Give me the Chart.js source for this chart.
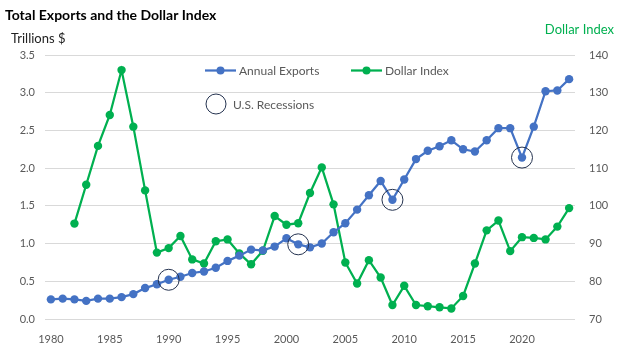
<!DOCTYPE html>
<html>
<head>
<meta charset="utf-8">
<script src="https://cdn.jsdelivr.net/npm/chart.js@4/dist/chart.umd.min.js"></script>
<style>
  html, body { margin: 0; padding: 0; background: #fff; }
  #wrap { position: relative; width: 626px; height: 345px; }
</style>
</head>
<body>
<div id="wrap"><canvas id="exportsChart"></canvas></div>
<script>
// Annual US exports (trillions $) and the trade-weighted dollar index, 1980-2024
const years = [];
for (let y = 1980; y <= 2024; y++) years.push(y);

const annualExports = [
    0.26, 0.27, 0.26, 0.24, 0.27, 0.27, 0.29, 0.33, 0.41, 0.46,
    0.52, 0.56, 0.61, 0.63, 0.68, 0.77, 0.84, 0.92, 0.91, 0.96,
    1.07, 0.99, 0.95, 1.00, 1.15, 1.27, 1.45, 1.64, 1.83, 1.58,
    1.85, 2.12, 2.23, 2.29, 2.37, 2.25, 2.22, 2.37, 2.53, 2.53,
    2.14, 2.55, 3.02, 3.03, 3.18
];

const dollarIndex = [
    null, null, 95.3, 105.6, 115.9, 124.1, 136.0, 121.0, 104.1, 87.6,
    88.8, 92.0, 85.8, 84.7, 90.6, 91.1, 87.4, 84.5, 88.1, 97.3,
    95.0, 95.4, 103.4, 110.2, 100.4, 85.0, 79.4, 85.6, 81.0, 73.7,
    78.8, 73.7, 73.4, 73.1, 72.8, 76.1, 84.7, 93.5, 96.1, 88.0,
    91.7, 91.5, 91.1, 94.5, 99.4
];

const recessionYears = [1990, 2001, 2009, 2020];

const leftTicks = [0, 0.5, 1.0, 1.5, 2.0, 2.5, 3.0, 3.5];
const rightTicks = [70, 80, 90, 100, 110, 120, 130, 140];

const BLUE = '#4472C4';
const GREEN = '#00B050';
const RING = '#24324F';
const TICK = '#595959';
const FONT = 'Lato, "Liberation Sans", sans-serif';

// recession rings sit on the export line
const recessionData = years.map((y, i) => recessionYears.includes(y) ? annualExports[i] : null);

// titles, axis captions and the two-row legend
const decorations = {
    id: 'decorations',
    afterDraw(chart) {
        const c = chart.ctx;
        c.save();
        c.textBaseline = 'middle';
        c.textAlign = 'left';

        c.fillStyle = '#000';
        c.font = 'bold 14px ' + FONT;
        c.fillText('Total Exports and the Dollar Index', 5, 15);

        c.fillStyle = '#222';
        c.font = '13px ' + FONT;
        c.fillText('Trillions $', 11, 39);

        c.fillStyle = GREEN;
        c.textAlign = 'right';
        c.fillText('Dollar Index', 614, 30);

        const item = (x, y, color, label) => {
            c.strokeStyle = color;
            c.lineWidth = 2.25;
            c.beginPath();
            c.moveTo(x, y);
            c.lineTo(x + 31, y);
            c.stroke();
            c.fillStyle = color;
            c.beginPath();
            c.arc(x + 15.5, y, 4, 0, Math.PI * 2);
            c.fill();
            c.fillStyle = TICK;
            c.textAlign = 'left';
            c.font = '12px ' + FONT;
            c.fillText(label, x + 34, y + 0.5);
        };
        item(205, 70.5, BLUE, 'Annual Exports');
        item(351, 70.5, GREEN, 'Dollar Index');

        c.strokeStyle = RING;
        c.lineWidth = 1;
        c.beginPath();
        c.arc(216, 104, 10, 0, Math.PI * 2);
        c.stroke();
        c.fillStyle = TICK;
        c.fillText('U.S. Recessions', 233, 105);

        c.restore();
    }
};

const ctx = document.getElementById('exportsChart').getContext('2d');

const exportsChart = new Chart(ctx, {
    type: 'line',
    data: {
        labels: years,
        datasets: [
            {
                label: 'U.S. Recessions',
                data: recessionData,
                yAxisID: 'y',
                showLine: false,
                pointRadius: 10.5,
                pointHoverRadius: 10.5,
                pointBorderWidth: 1,
                pointBorderColor: RING,
                pointBackgroundColor: 'rgba(0,0,0,0)',
                order: 0
            },
            {
                label: 'Annual Exports',
                data: annualExports,
                yAxisID: 'y',
                borderColor: BLUE,
                backgroundColor: BLUE,
                borderWidth: 2.25,
                pointRadius: 4.2,
                pointBorderWidth: 0,
                pointBackgroundColor: BLUE,
                tension: 0,
                order: 1
            },
            {
                label: 'Dollar Index',
                data: dollarIndex,
                yAxisID: 'yDollar',
                borderColor: GREEN,
                backgroundColor: GREEN,
                borderWidth: 2.25,
                pointRadius: 4.2,
                pointBorderWidth: 0,
                pointBackgroundColor: GREEN,
                tension: 0,
                order: 2
            }
        ]
    },
    options: {
        responsive: true,
        maintainAspectRatio: false,
        animation: false,
        layout: { padding: { top: 55, left: 0, right: 0, bottom: 0 } },
        scales: {
            x: {
                type: 'category',
                offset: true,
                grid: { display: false },
                border: { display: false },
                ticks: {
                    autoSkip: false,
                    maxRotation: 0,
                    padding: 6,
                    color: TICK,
                    font: { family: FONT, size: 11 },
                    callback: function(value) {
                        const yr = years[value];
                        return yr % 5 === 0 ? String(yr) : '';
                    }
                },
                afterFit(scale) { scale.height = 26; }
            },
            y: {
                type: 'linear',
                position: 'left',
                min: leftTicks[0],
                max: leftTicks[leftTicks.length - 1],
                afterBuildTicks(scale) { scale.ticks = leftTicks.map(v => ({ value: v })); },
                grid: { color: '#D9D9D9', lineWidth: 1, drawTicks: false },
                border: { display: false },
                ticks: {
                    padding: 10,
                    color: TICK,
                    font: { family: FONT, size: 11 },
                    callback: v => v.toFixed(1)
                },
                afterFit(scale) { scale.width = 45; }
            },
            yDollar: {
                type: 'linear',
                position: 'right',
                min: rightTicks[0],
                max: rightTicks[rightTicks.length - 1],
                afterBuildTicks(scale) { scale.ticks = rightTicks.map(v => ({ value: v })); },
                grid: { drawOnChartArea: false, drawTicks: false },
                border: { display: false },
                ticks: {
                    padding: 14,
                    color: TICK,
                    font: { family: FONT, size: 11 }
                },
                afterFit(scale) { scale.width = 51; }
            }
        },
        plugins: {
            legend: { display: false },
            tooltip: { enabled: false }
        }
    },
    plugins: [decorations]
});
</script>
</body>
</html>
